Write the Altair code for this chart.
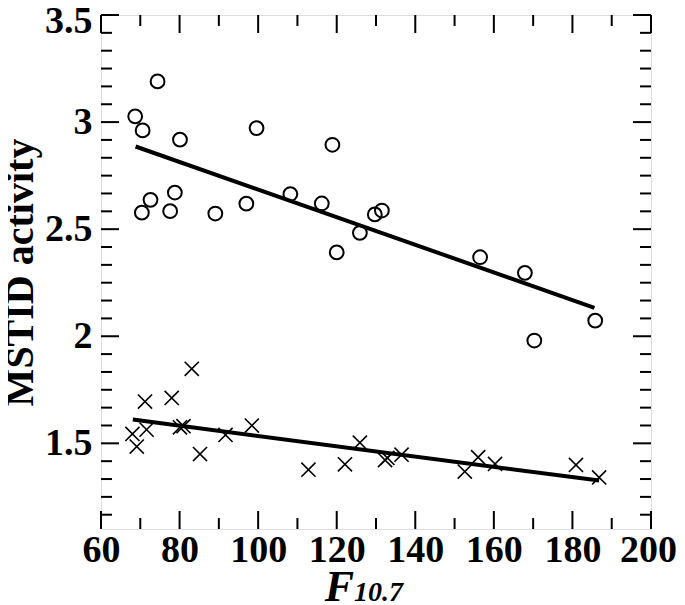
import altair as alt
import pandas as pd

# ---- data ----
circle_f107 = [68.7, 70.4, 70.6, 72.6, 74.4, 77.6, 78.8, 80.1, 89.1, 97.0, 99.6,
               108.2, 116.2, 118.9, 120.0, 125.9, 129.7, 131.5, 156.5, 167.9, 170.3, 185.8]
circle_act = [3.027, 2.577, 2.961, 2.637, 3.19, 2.584, 2.671, 2.918, 2.573, 2.619, 2.972,
              2.664, 2.620, 2.894, 2.392, 2.483, 2.569, 2.587, 2.369, 2.296, 1.980, 2.073]

cross_f107 = [68.0, 69.1, 71.2, 71.6, 78.0, 80.1, 81.0, 83.1, 85.2, 91.7, 98.4,
              112.8, 122.1, 125.9, 132.3, 132.9, 136.5, 152.6, 156.0, 160.3, 180.9, 186.8]
cross_act = [1.544, 1.485, 1.695, 1.564, 1.712, 1.575, 1.580, 1.848, 1.450, 1.539, 1.583,
             1.377, 1.402, 1.503, 1.422, 1.432, 1.447, 1.368, 1.435, 1.404, 1.399, 1.341]

fit_hi_f107 = [68.8, 185.6]
fit_hi_act = [2.886, 2.133]
fit_lo_f107 = [68.1, 186.8]
fit_lo_act = [1.611, 1.326]

x_major = [60, 80, 100, 120, 140, 160, 180, 200]
x_minor = [70, 90, 110, 130, 150, 170, 190]
y_major = [1.5, 2.0, 2.5, 3.0, 3.5]
y_minor = [1.1667, 1.25, 1.3333, 1.4167, 1.5833, 1.6667, 1.75, 1.8333, 1.9167,
           2.0833, 2.1667, 2.25, 2.3333, 2.4167, 2.5833, 2.6667, 2.75, 2.8333, 2.9167,
           3.0833, 3.1667, 3.25, 3.3333, 3.4167]

W, H = 550, 514
FONT = "Liberation Serif"

xscale = alt.Scale(domain=[60, 200], nice=False, zero=False)
yscale = alt.Scale(domain=[1.1, 3.5], nice=False, zero=False)

X = alt.X("f:Q", scale=xscale,
          axis=alt.Axis(values=x_major, format="d", ticks=False, tickSize=0, domain=False,
                        grid=False, title=None, labelFont=FONT, labelFontSize=38,
                        labelFontWeight="bold", labelColor="black", labelPadding=2,
                        labelOverlap=False, labelFlush=False,
                        labelOffset={"condition": {"test": "datum.value >= 195", "value": -3},
                                     "value": 0}))
Y = alt.Y("a:Q", scale=yscale,
          axis=alt.Axis(values=y_major, format="~g", ticks=False, tickSize=0, domain=False,
                        grid=False,
                        title="MSTID activity", titleFont=FONT, titleFontSize=40,
                        titleFontWeight="bold", titleColor="black", titleX=-69, titleY=H / 2,
                        titleBaseline="alphabetic", titleAngle=270,
                        labelFont=FONT, labelFontSize=38, labelFontWeight="bold",
                        labelColor="black", labelPadding=9, labelOverlap=False,
                        labelFlush=False,
                        labelOffset={"condition": {"test": "datum.value >= 3.4", "value": 6},
                                     "value": 0}))

df_c = pd.DataFrame({"f": circle_f107, "a": circle_act})
df_x = pd.DataFrame({"f": cross_f107, "a": cross_act})
df_fh = pd.DataFrame({"f": fit_hi_f107, "a": fit_hi_act})
df_fl = pd.DataFrame({"f": fit_lo_f107, "a": fit_lo_act})

circles = alt.Chart(df_c).mark_point(shape="circle", filled=False, color="black",
                                     size=190, strokeWidth=2, opacity=1).encode(x=X, y=Y)
crosses = alt.Chart(df_x).mark_point(shape="M-1,-1L1,1M-1,1L1,-1", filled=False,
                                     color="black", size=200, strokeWidth=1.6,
                                     opacity=1).encode(x=X, y=Y)
line_hi = alt.Chart(df_fh).mark_line(color="black", strokeWidth=4).encode(x=X, y=Y)
line_lo = alt.Chart(df_fl).mark_line(color="black", strokeWidth=4).encode(x=X, y=Y)

MAJ, MIN = 18, 11
dxM = pd.DataFrame({"f": x_major})
dxm = pd.DataFrame({"f": x_minor})
dyM = pd.DataFrame({"a": y_major})
dym = pd.DataFrame({"a": y_minor})

def xt(df, y0, y1):
    return alt.Chart(df).mark_rule(color="black", strokeWidth=2).encode(
        x=X, y=alt.value(y0), y2=alt.value(y1))

def yt(df, x0, x1):
    return alt.Chart(df).mark_rule(color="black", strokeWidth=2).encode(
        y=Y, x=alt.value(x0), x2=alt.value(x1))

ticks = [
    xt(dxM, H, H - MAJ), xt(dxm, H, H - MIN),
    xt(dxM, 0, MAJ), xt(dxm, 0, MIN),
    yt(dyM, 0, MAJ), yt(dym, 0, MIN),
    yt(dyM, W, W - MAJ), yt(dym, W, W - MIN),
]

t_F = alt.Chart(pd.DataFrame({"t": ["F"]})).mark_text(
    font=FONT, fontSize=44, fontStyle="italic", fontWeight="bold", color="black",
    align="right", baseline="alphabetic").encode(
    text="t:N", x=alt.value(253), y=alt.value(586))
t_sub = alt.Chart(pd.DataFrame({"t": ["10.7"]})).mark_text(
    font=FONT, fontSize=28, fontStyle="italic", fontWeight="bold", color="black",
    align="left", baseline="alphabetic").encode(
    text="t:N", x=alt.value(253), y=alt.value(586))

chart = alt.layer(*ticks, line_hi, line_lo, circles, crosses, t_F, t_sub).properties(
    width=W, height=H,
    autosize=alt.AutoSizeParams(type="none"),
    padding={"left": 93, "top": 7, "right": 26, "bottom": 76},
).configure_view(stroke="black", strokeWidth=3).configure(background="white")

chart.save("out.html", embed_options={"renderer": "svg", "actions": False})
